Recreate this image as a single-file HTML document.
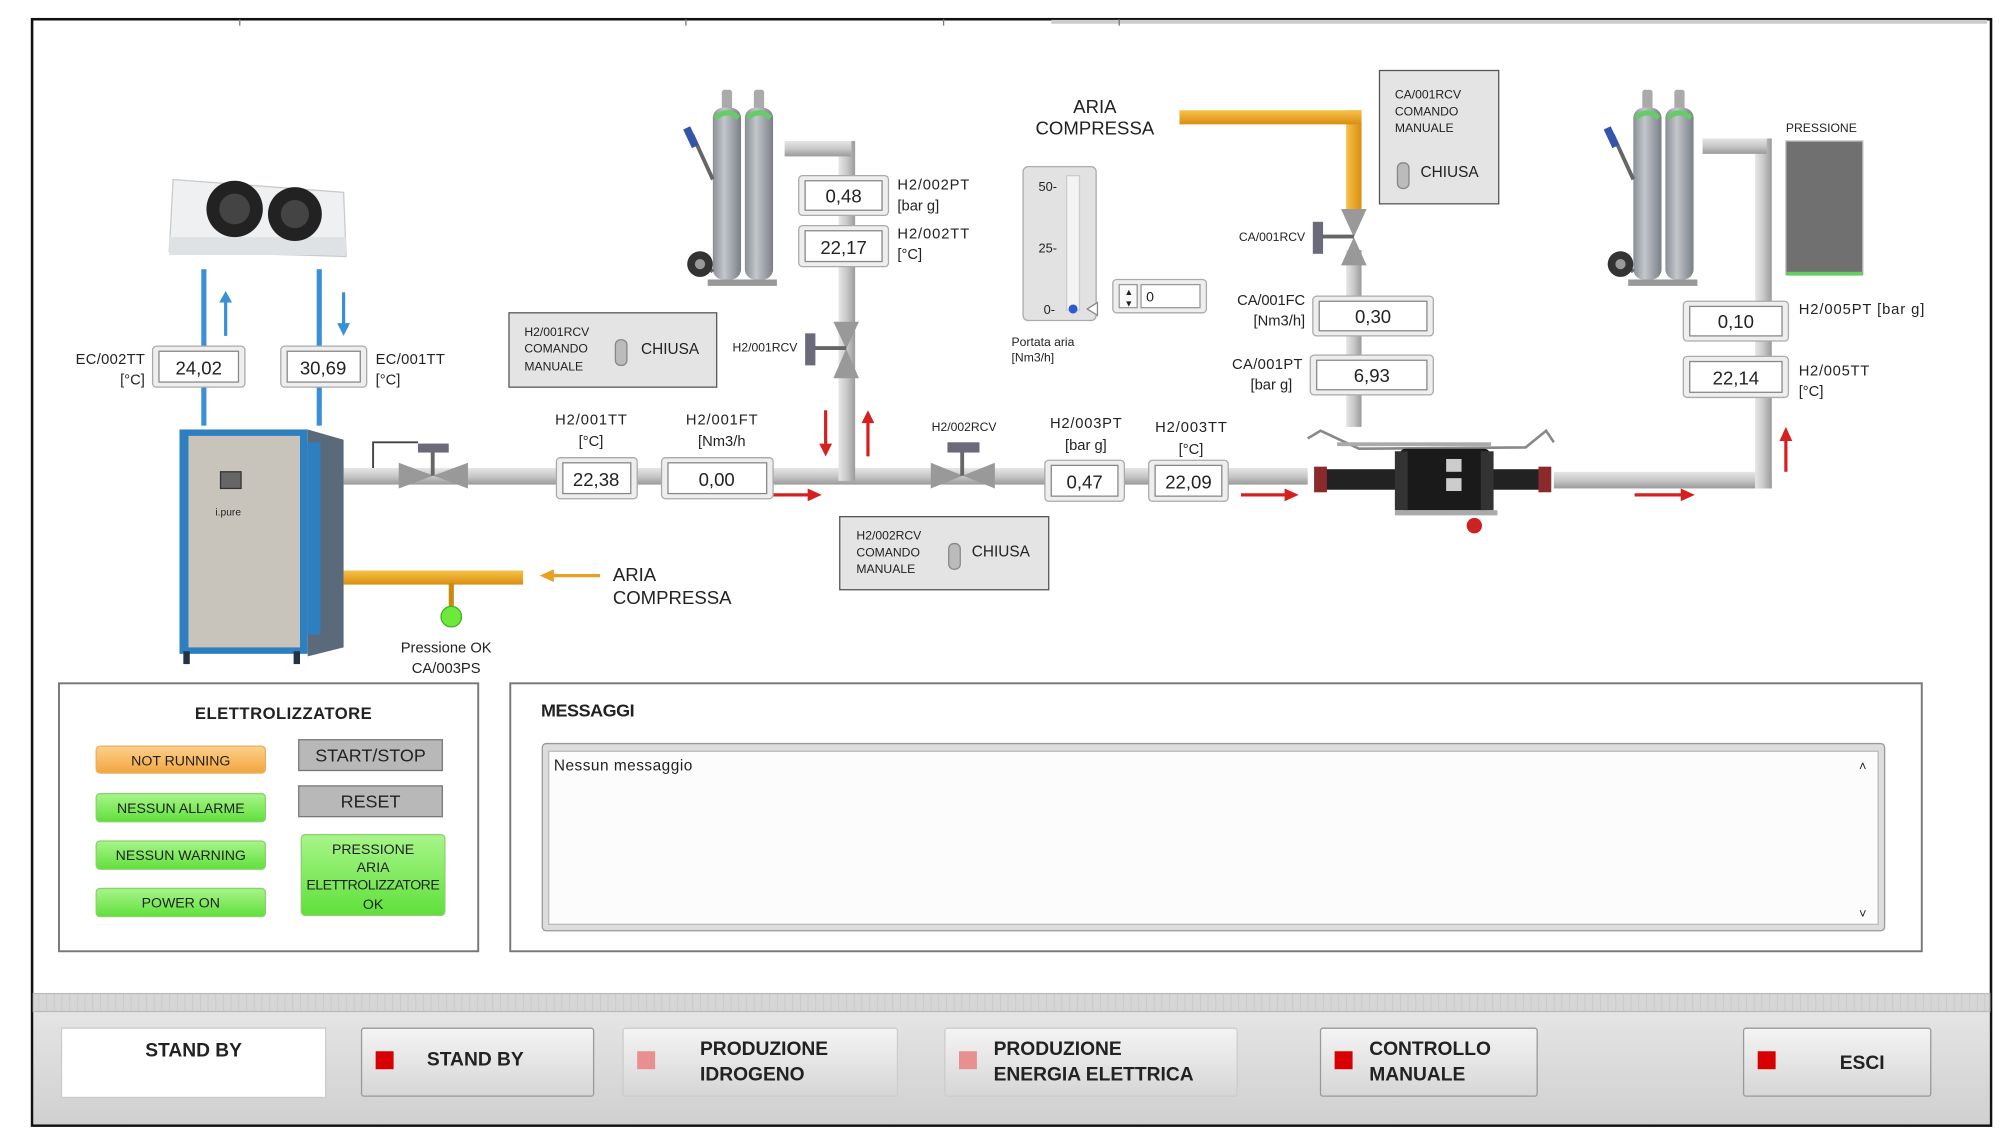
<!DOCTYPE html>
<html><head><meta charset="utf-8">
<style>
html,body{margin:0;padding:0;background:#fff;}
svg{display:block;}
text{font-family:"Liberation Sans",sans-serif;fill:#222;}
.c{font-stretch:condensed;}
</style></head>
<body>
<svg width="2000" height="1141" viewBox="0 0 1560 890" xmlns="http://www.w3.org/2000/svg">
<defs>
<linearGradient id="pipeH" x1="0" y1="0" x2="0" y2="1"><stop offset="0" stop-color="#e6e6e6"/><stop offset="0.5" stop-color="#c8c8c8"/><stop offset="1" stop-color="#9a9a9a"/></linearGradient>
<linearGradient id="pipeV" x1="0" y1="0" x2="1" y2="0"><stop offset="0" stop-color="#e6e6e6"/><stop offset="0.5" stop-color="#c8c8c8"/><stop offset="1" stop-color="#9a9a9a"/></linearGradient>
<linearGradient id="orH" x1="0" y1="0" x2="0" y2="1"><stop offset="0" stop-color="#f7c24a"/><stop offset="1" stop-color="#d98e10"/></linearGradient>
<linearGradient id="orV" x1="0" y1="0" x2="1" y2="0"><stop offset="0" stop-color="#f7c24a"/><stop offset="1" stop-color="#d98e10"/></linearGradient>
<linearGradient id="btn" x1="0" y1="0" x2="0" y2="1"><stop offset="0" stop-color="#f4f4f4"/><stop offset="1" stop-color="#d6d6d6"/></linearGradient>
<linearGradient id="grn" x1="0" y1="0" x2="0" y2="1"><stop offset="0" stop-color="#a8f58a"/><stop offset="1" stop-color="#5fe03a"/></linearGradient>
<linearGradient id="org" x1="0" y1="0" x2="0" y2="1"><stop offset="0" stop-color="#fcd08a"/><stop offset="1" stop-color="#f3a640"/></linearGradient>
<linearGradient id="cyl" x1="0" y1="0" x2="1" y2="0"><stop offset="0" stop-color="#8a8f96"/><stop offset="0.4" stop-color="#c3c7cc"/><stop offset="1" stop-color="#7a7f86"/></linearGradient>
<linearGradient id="bar" x1="0" y1="0" x2="0" y2="1"><stop offset="0" stop-color="#e8e8e8"/><stop offset="1" stop-color="#d0d0d0"/></linearGradient>
<pattern id="hatch" width="6" height="14" patternUnits="userSpaceOnUse"><rect width="6" height="14" fill="#d6d6d6"/><line x1="0" y1="0" x2="0" y2="14" stroke="#c4c4c4"/></pattern>
</defs>

<rect x="25" y="15" width="1528" height="863" fill="#fff" stroke="#111" stroke-width="2"/>
<line x1="820" y1="17" x2="1550" y2="17" stroke="#ccc" stroke-width="3"/>
<line x1="187" y1="15" x2="187" y2="20" stroke="#777"/><line x1="535" y1="15" x2="535" y2="20" stroke="#777"/><line x1="736" y1="15" x2="736" y2="20" stroke="#777"/><line x1="873" y1="15" x2="873" y2="20" stroke="#777"/>

<rect x="268" y="365" width="752" height="13" fill="url(#pipeH)"/>
<rect x="1212" y="368" width="170" height="13" fill="url(#pipeH)"/>
<rect x="1369" y="108" width="13" height="273" fill="url(#pipeV)"/>
<rect x="1328" y="108" width="50" height="12" fill="url(#pipeH)"/>
<rect x="654" y="110" width="13" height="265" fill="url(#pipeV)"/>
<rect x="612" y="110" width="52" height="12" fill="url(#pipeH)"/>
<rect x="1050" y="195" width="12" height="138" fill="url(#pipeV)"/>
<rect x="1050" y="86" width="12" height="80" fill="url(#orV)"/>
<rect x="920" y="86" width="142" height="11" fill="url(#orH)"/>
<rect x="268" y="445" width="140" height="11" fill="url(#orH)"/>
<rect x="350" y="455" width="4" height="20" fill="#c98a10"/>
<circle cx="352" cy="481" r="8" fill="#6ee83a" stroke="#3fb020"/>

<rect x="157" y="210" width="4" height="122" fill="#3a8fd8"/>
<rect x="247" y="210" width="4" height="122" fill="#3a8fd8"/>
<path d="M176 262 V232" stroke="#3a8fd8" stroke-width="2.5"/><path d="M171 236 L176 227 L181 236 Z" fill="#3a8fd8"/>
<path d="M268 228 V256" stroke="#3a8fd8" stroke-width="2.5"/><path d="M263 252 L268 262 L273 252 Z" fill="#3a8fd8"/>

<path d="M135 140 L268 150 L270 200 L132 196 Z" fill="#eef0f2" stroke="#c8cacc"/>
<rect x="132" y="185" width="138" height="14" fill="#dfe2e4"/>
<circle cx="183" cy="163" r="22" fill="#222"/><circle cx="183" cy="163" r="12" fill="#444"/>
<circle cx="230" cy="167" r="21" fill="#222"/><circle cx="230" cy="167" r="11" fill="#444"/>

<rect x="140" y="335" width="100" height="175" fill="#2e7fc0"/>
<rect x="147" y="340" width="87" height="165" fill="#c8c4bc"/>
<path d="M240 335 L268 343 L268 505 L240 512 Z" fill="#5a6a7a"/>
<rect x="240" y="345" width="10" height="150" fill="#2e7fc0"/>
<rect x="172" y="368" width="16" height="13" fill="#666" stroke="#333"/>
<text x="168" y="402" font-size="8" fill="#2e7fc0">i.pure</text>
<rect x="143" y="508" width="5" height="10" fill="#234"/><rect x="229" y="508" width="5" height="10" fill="#234"/>

<g id="cyls">
<rect x="563" y="70" width="8" height="16" rx="2" fill="#aaa"/><rect x="588" y="70" width="8" height="16" rx="2" fill="#aaa"/>
<rect x="556" y="84" width="22" height="134" rx="8" fill="url(#cyl)"/><rect x="581" y="84" width="22" height="134" rx="8" fill="url(#cyl)"/>
<path d="M558 92 Q567 84 576 92" stroke="#6c6" stroke-width="4" fill="none"/><path d="M583 92 Q592 84 601 92" stroke="#6c6" stroke-width="4" fill="none"/>
<path d="M540 105 L556 140 M556 212 L545 200" stroke="#666" stroke-width="3" fill="none"/>
<rect x="536" y="99" width="6" height="16" fill="#35a" transform="rotate(-25 539 107)"/>
<circle cx="546" cy="206" r="10" fill="#333"/><circle cx="546" cy="206" r="4" fill="#999"/>
<rect x="552" y="218" width="54" height="5" fill="#999"/>
</g>
<use href="#cyls" transform="translate(718,0)"/>

<g>
<path d="M1020 342 L1030 336 L1060 350 L1190 349 L1206 336 L1212 345" stroke="#888" stroke-width="2" fill="none"/>
<rect x="1043" y="345" width="120" height="3" fill="#aaa"/>
<rect x="1028" y="366" width="180" height="16" fill="#222"/>
<rect x="1025" y="364" width="10" height="20" fill="#8a2a2a"/><rect x="1200" y="364" width="10" height="20" fill="#8a2a2a"/>
<rect x="1092" y="350" width="70" height="48" rx="4" fill="#1a1a1a"/>
<rect x="1088" y="352" width="10" height="46" fill="#333"/><rect x="1155" y="352" width="10" height="46" fill="#333"/>
<rect x="1128" y="358" width="12" height="10" fill="#ccc"/><rect x="1128" y="373" width="12" height="10" fill="#ccc"/>
<rect x="1088" y="398" width="80" height="4" fill="#aaa"/>
<circle cx="1150" cy="410" r="6" fill="#c22"/>
</g>

<path d="M311 361 L338 371 L311 381 Z M365 361 L338 371 L365 381 Z" fill="#999"/>
<rect x="336" y="352" width="3" height="19" fill="#666"/><rect x="326" y="346" width="24" height="7" fill="#6a6a7a"/>
<path d="M291 365 V345 H326" stroke="#444" stroke-width="1.5" fill="none"/>
<path d="M726 361 L751 371 L726 381 Z M776 361 L751 371 L776 381 Z" fill="#999"/>
<rect x="749" y="352" width="3" height="19" fill="#666"/><rect x="739" y="345" width="25" height="8" fill="#6a6a7a"/>
<path d="M650 251 L660 272 L670 251 Z M650 295 L660 272 L670 295 Z" fill="#999"/>
<rect x="634" y="270" width="26" height="3" fill="#666"/><rect x="628" y="260" width="8" height="25" fill="#6a6a7a"/>
<path d="M1046 163 L1056 185 L1066 163 Z M1046 207 L1056 185 L1066 207 Z" fill="#999"/>
<rect x="1030" y="183" width="26" height="3" fill="#666"/><rect x="1024" y="173" width="8" height="25" fill="#6a6a7a"/>

<g stroke="#d52020" stroke-width="2.5" fill="#d52020">
<line x1="644" y1="320" x2="644" y2="350"/><path d="M639 346 L644 356 L649 346 Z" stroke="none"/>
<line x1="677" y1="356" x2="677" y2="326"/><path d="M672 330 L677 320 L682 330 Z" stroke="none"/>
<line x1="603" y1="386" x2="634" y2="386"/><path d="M630 381 L641 386 L630 391 Z" stroke="none"/>
<line x1="968" y1="386" x2="1006" y2="386"/><path d="M1002 381 L1013 386 L1002 391 Z" stroke="none"/>
<line x1="1275" y1="386" x2="1315" y2="386"/><path d="M1311 381 L1322 386 L1311 391 Z" stroke="none"/>
<line x1="1393" y1="368" x2="1393" y2="340"/><path d="M1388 344 L1393 333 L1398 344 Z" stroke="none"/>
</g>
<line x1="468" y1="449" x2="428" y2="449" stroke="#e8a020" stroke-width="2.5"/><path d="M432 444 L421 449 L432 454 Z" fill="#e8a020"/>

<g font-size="14.5">
<g><rect x="119" y="270" width="72" height="32" rx="3" fill="#eee" stroke="#aaa"/><rect x="124" y="274" width="62" height="24" fill="#fff" stroke="#888"/><text x="155" y="292" text-anchor="middle">24,02</text></g>
<g><rect x="219" y="270" width="67" height="32" rx="3" fill="#eee" stroke="#aaa"/><rect x="224" y="274" width="57" height="24" fill="#fff" stroke="#888"/><text x="252" y="292" text-anchor="middle">30,69</text></g>
<g><rect x="623" y="137" width="70" height="31" rx="3" fill="#eee" stroke="#aaa"/><rect x="628" y="141" width="60" height="23" fill="#fff" stroke="#888"/><text x="658" y="158" text-anchor="middle">0,48</text></g>
<g><rect x="623" y="176" width="70" height="32" rx="3" fill="#eee" stroke="#aaa"/><rect x="628" y="180" width="60" height="24" fill="#fff" stroke="#888"/><text x="658" y="198" text-anchor="middle">22,17</text></g>
<g><rect x="434" y="357" width="63" height="32" rx="3" fill="#eee" stroke="#aaa"/><rect x="439" y="361" width="53" height="24" fill="#fff" stroke="#888"/><text x="465" y="379" text-anchor="middle">22,38</text></g>
<g><rect x="516" y="357" width="87" height="32" rx="3" fill="#eee" stroke="#aaa"/><rect x="521" y="361" width="77" height="24" fill="#fff" stroke="#888"/><text x="559" y="379" text-anchor="middle">0,00</text></g>
<g><rect x="815" y="359" width="62" height="32" rx="3" fill="#eee" stroke="#aaa"/><rect x="820" y="363" width="52" height="24" fill="#fff" stroke="#888"/><text x="846" y="381" text-anchor="middle">0,47</text></g>
<g><rect x="896" y="359" width="62" height="32" rx="3" fill="#eee" stroke="#aaa"/><rect x="901" y="363" width="52" height="24" fill="#fff" stroke="#888"/><text x="927" y="381" text-anchor="middle">22,09</text></g>
<g><rect x="1024" y="231" width="94" height="31" rx="3" fill="#eee" stroke="#aaa"/><rect x="1029" y="235" width="84" height="23" fill="#fff" stroke="#888"/><text x="1071" y="252" text-anchor="middle">0,30</text></g>
<g><rect x="1022" y="277" width="96" height="31" rx="3" fill="#eee" stroke="#aaa"/><rect x="1027" y="281" width="86" height="23" fill="#fff" stroke="#888"/><text x="1070" y="298" text-anchor="middle">6,93</text></g>
<g><rect x="1313" y="235" width="82" height="31" rx="3" fill="#eee" stroke="#aaa"/><rect x="1318" y="239" width="72" height="23" fill="#fff" stroke="#888"/><text x="1354" y="256" text-anchor="middle">0,10</text></g>
<g><rect x="1313" y="278" width="82" height="32" rx="3" fill="#eee" stroke="#aaa"/><rect x="1318" y="282" width="72" height="24" fill="#fff" stroke="#888"/><text x="1354" y="300" text-anchor="middle">22,14</text></g>
</g>

<g font-size="11.5" transform="scale(1 1)">
<text x="113" y="284" text-anchor="end" textLength="54">EC/002TT</text><text x="113" y="300" text-anchor="end">[°C]</text>
<text x="293" y="284" textLength="54">EC/001TT</text><text x="293" y="300">[°C]</text>
<text x="700" y="148" textLength="56">H2/002PT</text><text x="700" y="164">[bar g]</text>
<text x="700" y="186" textLength="56">H2/002TT</text><text x="700" y="202">[°C]</text>
<text x="433" y="331" textLength="56">H2/001TT</text><text x="461" y="348" text-anchor="middle">[°C]</text>
<text x="535" y="331" textLength="56">H2/001FT</text><text x="563" y="348" text-anchor="middle">[Nm3/h</text>
<text x="819" y="334" textLength="56">H2/003PT</text><text x="847" y="351" text-anchor="middle">[bar g]</text>
<text x="901" y="337" textLength="56">H2/003TT</text><text x="929" y="354" text-anchor="middle">[°C]</text>
<text x="965" y="238" textLength="53">CA/001FC</text><text x="1018" y="254" text-anchor="end">[Nm3/h]</text>
<text x="961" y="288" textLength="55">CA/001PT</text><text x="1008" y="304" text-anchor="end">[bar g]</text>
<text x="1403" y="245" textLength="98">H2/005PT [bar g]</text>
<text x="1403" y="293" textLength="55">H2/005TT</text><text x="1403" y="309">[°C]</text>
</g>
<g font-size="9.5">
<text x="622" y="274" text-anchor="end">H2/001RCV</text>
<text x="752" y="336" text-anchor="middle">H2/002RCV</text>
<text x="1018" y="188" text-anchor="end">CA/001RCV</text>
<text x="1393" y="103">PRESSIONE</text>
<text x="789" y="270">Portata aria</text><text x="789" y="282">[Nm3/h]</text>
</g>
<text x="348" y="509" font-size="11.5" text-anchor="middle">Pressione OK</text>
<text x="348" y="525" font-size="11.5" text-anchor="middle">CA/003PS</text>
<text x="478" y="453" font-size="14.5">ARIA</text><text x="478" y="471" font-size="14.5">COMPRESSA</text>
<text x="854" y="88" font-size="14.5" text-anchor="middle">ARIA</text><text x="854" y="105" font-size="14.5" text-anchor="middle">COMPRESSA</text>

<rect x="1393" y="110" width="60" height="104" fill="#707070" stroke="#bbb"/>
<rect x="1393" y="212" width="60" height="3" fill="#6c6"/>

<rect x="798" y="130" width="57" height="120" rx="4" fill="#e2e2e2" stroke="#aaa"/>
<rect x="832" y="137" width="10" height="105" fill="#f4f4f4" stroke="#ccc"/>
<g font-size="10"><text x="810" y="149">50-</text><text x="810" y="197">25-</text><text x="814" y="245">0-</text></g>
<circle cx="837" cy="241" r="3.5" fill="#2a5cd0"/>
<path d="M848 241 L856 236 V246 Z" fill="#fff" stroke="#888"/>
<rect x="868" y="218" width="73" height="26" rx="3" fill="#eee" stroke="#aaa"/>
<rect x="873" y="222" width="14" height="18" fill="#fafafa" stroke="#999"/>
<text x="877" y="230" font-size="7">▲</text><text x="877" y="239" font-size="7">▼</text>
<rect x="890" y="222" width="46" height="18" fill="#fff" stroke="#999"/><text x="894" y="235" font-size="11">0</text>

<g font-size="9.5">
<rect x="397" y="244" width="162" height="58" fill="#e4e4e4" stroke="#555"/>
<text x="409" y="262">H2/001RCV</text><text x="409" y="275">COMANDO</text><text x="409" y="289">MANUALE</text>
<rect x="480" y="265" width="9" height="20" rx="4" fill="#bbb" stroke="#888"/><text x="500" y="276" font-size="12">CHIUSA</text>
<rect x="655" y="403" width="163" height="57" fill="#e4e4e4" stroke="#555"/>
<text x="668" y="421">H2/002RCV</text><text x="668" y="434">COMANDO</text><text x="668" y="447">MANUALE</text>
<rect x="740" y="424" width="9" height="20" rx="4" fill="#bbb" stroke="#888"/><text x="758" y="434" font-size="12">CHIUSA</text>
<rect x="1076" y="55" width="93" height="104" fill="#e4e4e4" stroke="#555"/>
<text x="1088" y="77">CA/001RCV</text><text x="1088" y="90">COMANDO</text><text x="1088" y="103">MANUALE</text>
<rect x="1090" y="127" width="9" height="20" rx="4" fill="#bbb" stroke="#888"/><text x="1108" y="138" font-size="12">CHIUSA</text>
</g>

<rect x="46" y="533" width="327" height="209" fill="#fff" stroke="#777" stroke-width="1.5"/>
<text x="221" y="561" font-size="13" font-weight="bold" text-anchor="middle" textLength="138">ELETTROLIZZATORE</text>
<g font-size="11" text-anchor="middle">
<rect x="75" y="582" width="132" height="21" rx="3" fill="url(#org)" stroke="#e9b060"/><text x="141" y="597">NOT RUNNING</text>
<rect x="75" y="619" width="132" height="22" rx="3" fill="url(#grn)" stroke="#8cd070"/><text x="141" y="634">NESSUN ALLARME</text>
<rect x="75" y="656" width="132" height="22" rx="3" fill="url(#grn)" stroke="#8cd070"/><text x="141" y="671">NESSUN WARNING</text>
<rect x="75" y="693" width="132" height="22" rx="3" fill="url(#grn)" stroke="#8cd070"/><text x="141" y="708">POWER ON</text>
<rect x="233" y="577" width="112" height="24" fill="#b8b8b8" stroke="#777"/><text x="289" y="594" font-size="14">START/STOP</text>
<rect x="233" y="613" width="112" height="24" fill="#b8b8b8" stroke="#777"/><text x="289" y="630" font-size="14">RESET</text>
<rect x="235" y="651" width="112" height="63" rx="3" fill="url(#grn)" stroke="#8cd070"/>
<text x="291" y="666">PRESSIONE</text><text x="291" y="680">ARIA</text><text x="291" y="694" textLength="104">ELETTROLIZZATORE</text><text x="291" y="709">OK</text>
</g>

<rect x="398" y="533" width="1101" height="209" fill="#fff" stroke="#777" stroke-width="1.5"/>
<text x="422" y="559" font-size="14" font-weight="bold" textLength="73">MESSAGGI</text>
<rect x="423" y="580" width="1047" height="146" rx="3" fill="#ddd" stroke="#999"/>
<rect x="428" y="586" width="1037" height="135" fill="#fcfcfc" stroke="#bbb"/>
<text x="432" y="601" font-size="12" textLength="108">Nessun messaggio</text>
<text x="1450" y="601" font-size="10">˄</text><text x="1450" y="716" font-size="10">˅</text>

<rect x="26" y="775" width="1526" height="102" fill="url(#bar)"/>
<rect x="26" y="775" width="1526" height="14" fill="url(#hatch)" stroke="#bbb"/>
<rect x="48" y="802" width="206" height="54" fill="#fff" stroke="#ccc"/>
<text x="151" y="824" font-size="15" font-weight="bold" text-anchor="middle">STAND BY</text>
<g font-size="15" font-weight="bold">
<rect x="282" y="802" width="181" height="53" rx="2" fill="url(#btn)" stroke="#999"/><rect x="293" y="820" width="14" height="14" fill="#d80000"/><text x="333" y="831">STAND BY</text>
<rect x="486" y="802" width="214" height="53" rx="2" fill="url(#btn)" stroke="#ccc"/><rect x="497" y="820" width="14" height="14" fill="#e89090"/><text x="546" y="823" fill="#a8a8a8">PRODUZIONE</text><text x="546" y="843" fill="#a8a8a8">IDROGENO</text>
<rect x="737" y="802" width="228" height="53" rx="2" fill="url(#btn)" stroke="#ccc"/><rect x="748" y="820" width="14" height="14" fill="#e89090"/><text x="775" y="823" fill="#a8a8a8">PRODUZIONE</text><text x="775" y="843" fill="#a8a8a8">ENERGIA ELETTRICA</text>
<rect x="1030" y="802" width="169" height="53" rx="2" fill="url(#btn)" stroke="#999"/><rect x="1041" y="820" width="14" height="14" fill="#d80000"/><text x="1068" y="823">CONTROLLO</text><text x="1068" y="843">MANUALE</text>
<rect x="1360" y="802" width="146" height="53" rx="2" fill="url(#btn)" stroke="#999"/><rect x="1371" y="820" width="14" height="14" fill="#d80000"/><text x="1435" y="834">ESCI</text>
</g>
</svg>
</body></html>
